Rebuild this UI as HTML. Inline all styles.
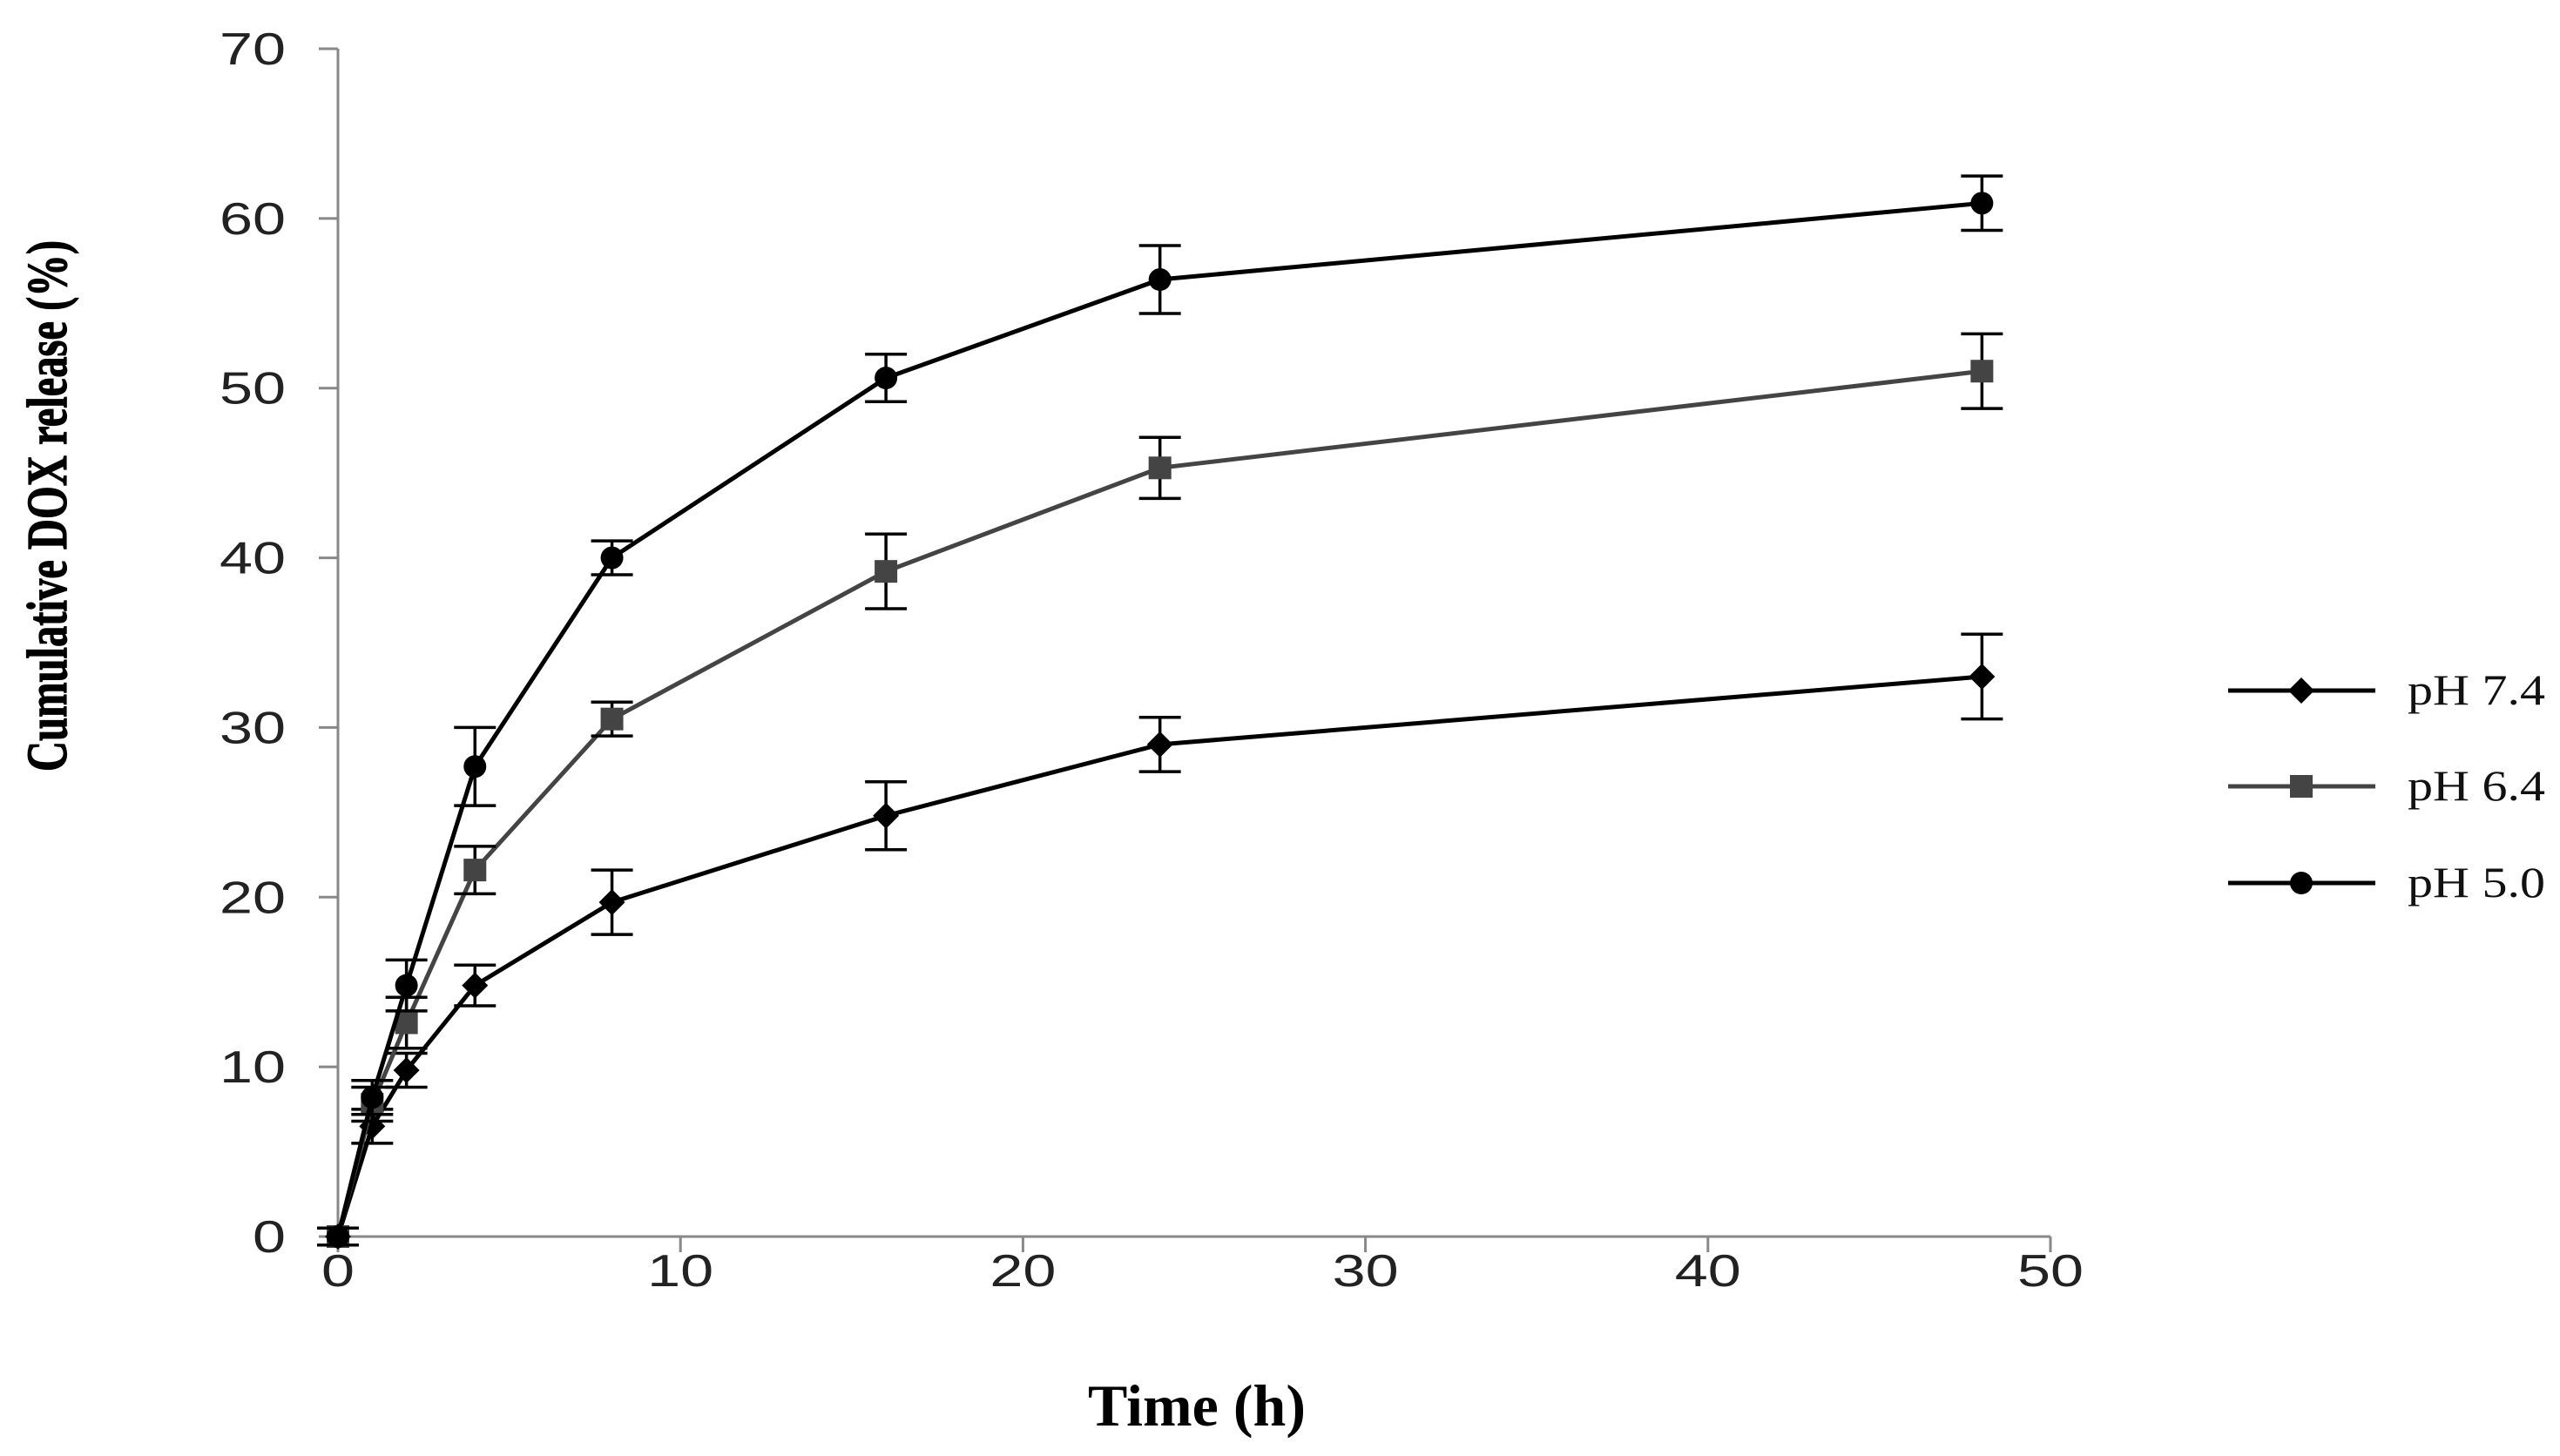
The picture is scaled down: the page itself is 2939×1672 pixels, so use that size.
<!DOCTYPE html>
<html><head><meta charset="utf-8"><style>html,body{margin:0;padding:0;background:#fff}svg{display:block}</style></head>
<body>
<svg id="chart" width="2939" height="1672" viewBox="0 0 2939 1672" xmlns="http://www.w3.org/2000/svg">
<g id="axes"></g>
<g id="series"></g>
<text x="1374" y="1637" text-anchor="middle" font-family="Liberation Serif, serif" font-weight="bold" font-size="68">Time (h)</text>
<text transform="translate(76,581) rotate(-90)" text-anchor="middle" font-family="Liberation Serif, serif" font-weight="bold" font-size="66" stroke="#000" stroke-width="1.2" textLength="610" lengthAdjust="spacingAndGlyphs">Cumulative DOX release (%)</text>
<g id="legend"></g>
</svg>
<script>
const times = [0, 1, 2, 4, 8, 16, 24, 48];
const seriesNames = ["pH 7.4", "pH 6.4", "pH 5.0"];
const ph74 = [0, 6.5, 9.8, 14.8, 19.7, 24.8, 29.0, 33.0];
const ph74err = [0.5, 1.0, 1.0, 1.2, 1.9, 2.0, 1.6, 2.5];
const ph64 = [0, 7.8, 12.6, 21.6, 30.5, 39.2, 45.3, 51.0];
const ph64err = [0.5, 1.0, 1.5, 1.4, 1.0, 2.2, 1.8, 2.2];
const ph50 = [0, 8.2, 14.8, 27.7, 40.0, 50.6, 56.4, 60.9];
const ph50err = [0.5, 1.0, 1.5, 2.3, 1.0, 1.4, 2.0, 1.6];
const yTicks = [0, 10, 20, 30, 40, 50, 60, 70];
const xTicks = [0, 10, 20, 30, 40, 50];

const NS = "http://www.w3.org/2000/svg";
const X0 = 388, X1 = 2354, Y0 = 1420, Y1 = 56;
const sx = v => X0 + (v - 0) / 50 * (X1 - X0);
const sy = v => Y0 - (v - 0) / 70 * (Y0 - Y1);
function mk(tag, attrs, parent) { const e = document.createElementNS(NS, tag); for (const k in attrs) e.setAttribute(k, attrs[k]); parent.appendChild(e); return e; }

const axes = document.getElementById('axes');
let el = mk('line', {x1: X0, y1: Y0, x2: X0, y2: Y1, stroke: '#888', 'stroke-width': 3}, axes);


el = mk('line', {x1: X0, y1: Y0, x2: X1, y2: Y0, stroke: '#888', 'stroke-width': 3}, axes);


yTicks.forEach(t => {
  mk('line', {x1: X0 - 22, y1: sy(t), x2: X0, y2: sy(t), stroke: '#888', 'stroke-width': 3}, axes);
  const s = String(t);
  const tx = mk('text', {x: 328, y: sy(t) + 18, 'text-anchor': 'end', 'font-family': 'Liberation Sans, sans-serif', 'font-size': 52, fill: '#222', textLength: s.length * 38, lengthAdjust: 'spacingAndGlyphs'}, axes);
  tx.textContent = s;
  
  
});
xTicks.forEach(t => {
  mk('line', {x1: sx(t), y1: Y0, x2: sx(t), y2: Y0 + 18, stroke: '#888', 'stroke-width': 3}, axes);
  const s = String(t);
  const tx = mk('text', {x: sx(t), y: 1477, 'text-anchor': 'middle', 'font-family': 'Liberation Sans, sans-serif', 'font-size': 52, fill: '#222', textLength: s.length * 38, lengthAdjust: 'spacingAndGlyphs'}, axes);
  tx.textContent = s;
  
  
});

function marker(shape, x, y, color, parent) {
  let m;
  if (shape === 'diamond') m = mk('polygon', {points: `${x},${y-15} ${x+15},${y} ${x},${y+15} ${x-15},${y}`, fill: color}, parent);
  else if (shape === 'square') m = mk('rect', {x: x-13, y: y-13, width: 26, height: 26, fill: color}, parent);
  else m = mk('circle', {cx: x, cy: y, r: 13, fill: color}, parent);
  return m;
}

const seriesDefs = [
  {vals: ph74, err: ph74err, color: '#000', shape: 'diamond', key: 'ph-7-4'},
  {vals: ph64, err: ph64err, color: '#444', shape: 'square', key: 'ph-6-4'},
  {vals: ph50, err: ph50err, color: '#000', shape: 'circle', key: 'ph-5-0'}
];
const sg = document.getElementById('series');
seriesDefs.forEach((s, i) => {
  const g = mk('g', {}, sg);
  
  
  const pts = times.map((t, j) => sx(t) + ',' + sy(s.vals[j])).join(' ');
  const pl = mk('polyline', {points: pts, fill: 'none', stroke: s.color, 'stroke-width': 5}, g);
  
  
  times.forEach((t, j) => {
    const x = sx(t), yh = sy(s.vals[j] + s.err[j]), yl = sy(s.vals[j] - s.err[j]);
    const eb = mk('path', {d: `M${x},${yh}V${yl}M${x-24},${yh}H${x+24}M${x-24},${yl}H${x+24}`, stroke: '#000', 'stroke-width': 3.5, fill: 'none'}, g);
    
    
    const m = marker(s.shape, x, sy(s.vals[j]), s.color, g);
    
    
  });
});

const lg = document.getElementById('legend');
const legY = [793, 903, 1014];
seriesDefs.forEach((s, i) => {
  const g = mk('g', {}, lg);
  
  
  mk('line', {x1: 2558, y1: legY[i], x2: 2727, y2: legY[i], stroke: s.color, 'stroke-width': 5}, g);
  marker(s.shape, 2642, legY[i], s.color, g);
  const tx = mk('text', {x: 2764, y: legY[i] + 16, 'font-family': 'Liberation Serif, serif', 'font-size': 50, fill: '#111', textLength: 158, lengthAdjust: 'spacingAndGlyphs'}, g);
  tx.textContent = seriesNames[i];
});
</script>
</body></html>
